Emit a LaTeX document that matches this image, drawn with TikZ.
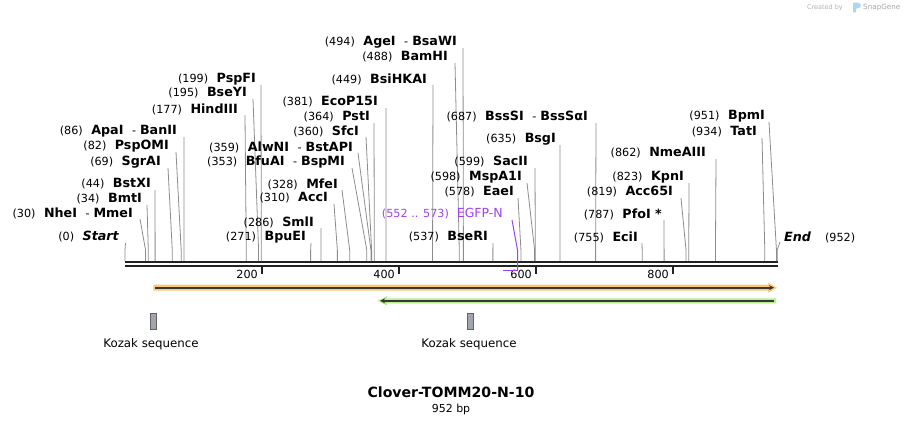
\documentclass[tikz,border=0pt]{standalone}
\usepackage{fontspec}
\setmainfont{DejaVu Sans}[ItalicFont={DejaVu Sans Oblique},BoldItalicFont={DejaVu Sans Bold Oblique}]
\usepackage{xcolor}
\usetikzlibrary{arrows.meta}
\definecolor{leadgray}{HTML}{8C8C8C}
\definecolor{axisdark}{HTML}{222222}
\definecolor{egfp}{HTML}{A040F0}
\definecolor{featorange}{HTML}{FAC878}
\definecolor{featgreen}{HTML}{B4F08C}
\definecolor{kozakgray}{HTML}{A0A5AE}
\definecolor{sgblue}{HTML}{A8D8F4}
\newcommand{\enzname}[1]{{\fontsize{12.7}{14}\selectfont\bfseries #1}}
\newcommand{\enzdash}{\hspace{8.5pt}-\hspace{4pt}}

\begin{document}
\begin{tikzpicture}[x=1pt,y=-1pt,
    sitelabel/.style={inner sep=0pt,anchor=east,font=\fontsize{11.2}{13}\selectfont},
    leader/.style={draw=leadgray,line width=0.8pt},
    backbone/.style={draw=axisdark,line width=2pt},
    kozak/.style={draw=axisdark!70,fill=kozakgray,line width=0.6pt,inner sep=0pt,minimum width=6.5pt,minimum height=16pt},
    plain/.style={inner sep=0pt,font=\fontsize{11.2}{13}\selectfont}]
\useasboundingbox (0,0) rectangle (904,424);

\node[plain,anchor=east,text=black!30,font=\fontsize{6.5}{8}\selectfont] (credit) at (843,7.5) {Created by};
\fill[sgblue] (853,12.3) -- (853,2.7) -- (857.5,2.7) .. controls (862,2.7) and (862,8.3) .. (857.5,8.3) -- (856,8.3) -- (856,12.3) -- cycle;
\node[plain,anchor=west,text=black!35,font=\fontsize{7.2}{8}\selectfont] (snapgene) at (863,7.5) {SnapGene};

\draw[backbone] (125,262.3) -- (778,262.3);
\draw[backbone] (125,265.7) -- (778,265.7);
\foreach \t in {200,400,600,800}{
  \draw[axisdark,line width=1.8pt] ({125+0.685*\t},267) -- ++(0,7);
  \node[plain,anchor=east] (tick\t) at ({121+0.685*\t},274) {\t};
}

\foreach \bp/\ly/\lx/\sx/\txt in {
    0/237/119/125.5/{(0)\hspace{8.5pt}\enzname{\itshape Start}},
    30/213/133/140/{(30)\hspace{8.5pt}\enzname{NheI}\enzdash\enzname{MmeI}},
    34/199/142/147/{(34)\hspace{8.5pt}\enzname{BmtI}},
    44/184/151/155/{(44)\hspace{8.5pt}\enzname{BstXI}},
    69/162/161/168/{(69)\hspace{8.5pt}\enzname{SgrAI}},
    82/146/169/176/{(82)\hspace{8.5pt}\enzname{PspOMI}},
    86/131/177/184/{(86)\hspace{8.5pt}\enzname{ApaI}\enzdash\enzname{BanII}},
    177/109/238/245/{(177)\hspace{8.5pt}\enzname{HindIII}},
    195/93/247/253/{(195)\hspace{8.5pt}\enzname{BseYI}},
    199/79/256/261/{(199)\hspace{8.5pt}\enzname{PspFI}},
    271/237/306/311/{(271)\hspace{8.5pt}\enzname{BpuEI}},
    286/222/314/321/{(286)\hspace{8.5pt}\enzname{SmlI}},
    310/198/328/334/{(310)\hspace{8.5pt}\enzname{AccI}},
    328/184/338/342/{(328)\hspace{8.5pt}\enzname{MfeI}},
    353/162/345/352/{(353)\hspace{8.5pt}\enzname{BfuAI}\enzdash\enzname{BspMI}},
    359/147/353/358/{(359)\hspace{8.5pt}\enzname{AlwNI}\enzdash\enzname{BstAPI}},
    360/131/359/366/{(360)\hspace{8.5pt}\enzname{SfcI}},
    364/117/370/374/{(364)\hspace{8.5pt}\enzname{PstI}},
    381/102/378/386/{(381)\hspace{8.5pt}\enzname{EcoP15I}},
    449/79/427/433/{(449)\hspace{8.5pt}\enzname{BsiHKAI}},
    488/57/448/455/{(488)\hspace{8.5pt}\enzname{BamHI}},
    494/42/457/463/{(494)\hspace{8.5pt}\enzname{AgeI}\enzdash\enzname{BsaWI}},
    537/237/488/493/{(537)\hspace{8.5pt}\enzname{BseRI}},
    578/192/514/518/{(578)\hspace{8.5pt}\enzname{EaeI}},
    598/177/522/527/{(598)\hspace{8.5pt}\enzname{MspA1I}},
    599/162/528/535/{(599)\hspace{8.5pt}\enzname{SacII}},
    635/139/556/560/{(635)\hspace{8.5pt}\enzname{BsgI}},
    687/117/588/596/{(687)\hspace{8.5pt}\enzname{BssSI}\enzdash\enzname{BssSαI}},
    755/237/638/642/{(755)\hspace{8.5pt}\enzname{EciI}},
    787/214/662/664/{(787)\hspace{8.5pt}\enzname{PfoI *}},
    819/192/673/681/{(819)\hspace{8.5pt}\enzname{Acc65I}},
    823/177/684/689/{(823)\hspace{8.5pt}\enzname{KpnI}},
    862/153/706/716/{(862)\hspace{8.5pt}\enzname{NmeAIII}},
    934/132/757/762/{(934)\hspace{8.5pt}\enzname{TatI}},
    951/116/765/769/{(951)\hspace{8.5pt}\enzname{BpmI}}}{
  \node[sitelabel] (lab\bp) at (\lx,\ly) {\txt};
  \coordinate (cut\bp) at ({125+0.685*\bp},261);
  \draw[leader] (lab\bp.east) ++({\sx-\lx},6) -- ({125+0.685*\bp},250) -- (cut\bp);
}

\node[sitelabel,anchor=west] (labend) at (784,237) {\enzname{\itshape End}\hspace{14pt}(952)};
\coordinate (cutend) at (777.1,261);
\draw[leader] (labend.west) ++(-4,5) -- (777.1,250) -- (cutend);

\node[sitelabel,text=egfp] (labegfp) at (503,214) {(552 .. 573)\hspace{8pt}{\fontsize{12.5}{14}\selectfont EGFP-N}};
\coordinate (egfpa) at (503.1,270.3);
\coordinate (egfpb) at (517.5,270.3);
\draw[egfp,line width=1pt] (labegfp.east) ++(9,6) -- (517.5,250) -- (egfpb);
\draw[egfp,line width=1.6pt] (egfpa) -- (egfpb);

\fill[featorange] (153.3,284.7) -- (768,284.7) -- (768,282.7) -- (777,287.7) -- (768,292.7) -- (768,290.7) -- (153.3,290.7) -- cycle;
\draw[axisdark!90,line width=1.6pt,-{Stealth[length=5pt,width=5pt]}] (155,287.7) -- (774,287.7);
\fill[featgreen] (776,298.3) -- (387,298.3) -- (387,296) -- (377.5,300.8) -- (387,305.6) -- (387,303.3) -- (776,303.3) -- cycle;
\draw[axisdark!90,line width=1.6pt,-{Stealth[length=5pt,width=5pt]}] (774,300.8) -- (380,300.8);

\node[kozak] (koz1) at (153.2,321) {};
\node[kozak] (koz2) at (470.2,321) {};
\node[plain,anchor=base,font=\fontsize{11.8}{13}\selectfont] (kozlab1) at (151,347) {Kozak sequence};
\node[plain,anchor=base,font=\fontsize{11.8}{13}\selectfont] (kozlab2) at (469,347) {Kozak sequence};

\node[plain,anchor=base,font=\fontsize{14.1}{16}\selectfont\bfseries] (title) at (451,397.7) {Clover-TOMM20-N-10};
\node[plain,anchor=base,font=\fontsize{11}{13}\selectfont] (length) at (451,412.7) {952 bp};
\end{tikzpicture}
\end{document}
